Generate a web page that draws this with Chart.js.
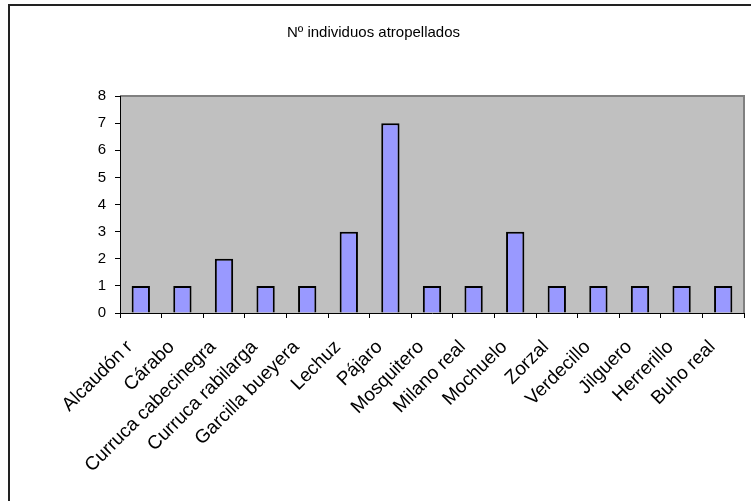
<!DOCTYPE html>
<html>
<head>
<meta charset="utf-8">
<script src="https://cdn.jsdelivr.net/npm/chart.js@4"></script>
<style>
  body { margin: 0; background: #fff; overflow: hidden; }
  #wrap { position: relative; width: 751px; height: 501px; }
  #frame { position: absolute; left: 8px; top: 4px; width: 800px; height: 600px;
           border-left: 2px solid #222; border-top: 2px solid #222; }
  canvas { position: absolute; left: 0; top: 0; }
</style>
</head>
<body>
<div id="wrap">
  <div id="frame"></div>
  <canvas id="chart" width="751" height="501"></canvas>
</div>
<script>
// Nº individuos atropellados por especie
const species = ["Alcaudón r", "Cárabo", "Curruca cabecinegra", "Curruca rabilarga", "Garcilla bueyera",
  "Lechuz", "Pájaro", "Mosquitero", "Milano real", "Mochuelo", "Zorzal", "Verdecillo",
  "Jilguero", "Herrerillo", "Buho real"];
const counts = [1, 1, 2, 1, 1, 3, 7, 1, 1, 3, 1, 1, 1, 1, 1];
const yTicks = [0, 1, 2, 3, 4, 5, 6, 7, 8];

const family = "'Liberation Sans', Arial, sans-serif";

// gray plot background like the old spreadsheet chart
const plotBg = {
  id: "plotBg",
  beforeDraw(chart) {
    const { ctx, chartArea: a } = chart;
    ctx.save();
    ctx.fillStyle = "#c0c0c0";
    ctx.fillRect(a.left, a.top, a.right - a.left, a.bottom - a.top);
    ctx.strokeStyle = "#808080";
    ctx.lineWidth = 2;
    ctx.beginPath();
    ctx.moveTo(a.left, a.top);
    ctx.lineTo(a.right, a.top);
    ctx.lineTo(a.right, a.bottom);
    ctx.stroke();
    ctx.restore();
  }
};

new Chart(document.getElementById("chart"), {
  type: "bar",
  data: {
    labels: species,
    datasets: [{
      data: counts,
      backgroundColor: "#9999ff",
      borderColor: "#000",
      borderWidth: 2,
      barPercentage: 0.44,
      categoryPercentage: 1
    }]
  },
  options: {
    responsive: false,
    animation: false,
    layout: { padding: { left: 3, right: 7, top: 0, bottom: 0 } },
    plugins: {
      legend: { display: false },
      tooltip: { enabled: false },
      title: {
        display: true,
        text: "Nº individuos atropellados",
        color: "#000",
        font: { family: family, size: 15, weight: "normal" },
        padding: { top: 24, bottom: 54 }
      }
    },
    scales: {
      x: {
        grid: { drawOnChartArea: false, drawTicks: true, tickLength: 5, color: "#000", offset: true },
        border: { color: "#000", width: 1 },
        ticks: {
          autoSkip: false,
          maxRotation: 45,
          minRotation: 45,
          color: "#000",
          font: { family: family, size: 19 },
          padding: 18,
          labelOffset: -11
        },
        afterFit(scale) {
          scale.height = 188;
          // don't let the rotated labels squeeze the plot sideways
          scale.paddingLeft = 0;
          scale.paddingRight = 0;
        }
      },
      y: {
        min: 0,
        max: 8,
        afterBuildTicks(scale) { scale.ticks = yTicks.map(v => ({ value: v })); },
        grid: { drawOnChartArea: false, drawTicks: true, tickLength: 5, color: "#000" },
        border: { color: "#000", width: 1 },
        ticks: { color: "#000", font: { family: family, size: 15 }, padding: 9 },
        afterFit(scale) { scale.width = 117; }
      }
    }
  },
  plugins: [plotBg]
});
</script>
</body>
</html>
